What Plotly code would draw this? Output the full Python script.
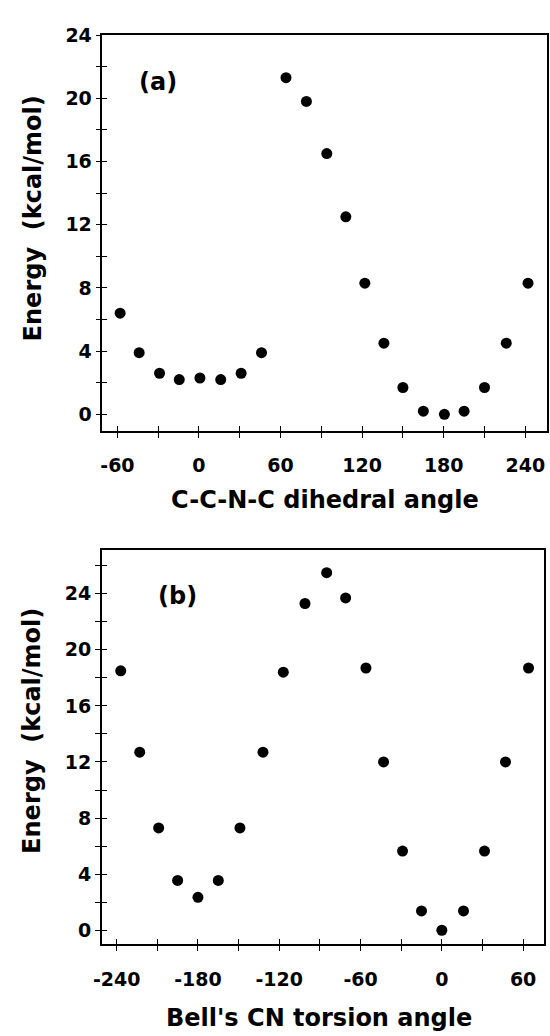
import plotly.graph_objects as go

# ---- data ----
angle_a = [-58, -44, -29, -14.5, 0.7, 16, 31, 46, 64, 79, 94, 108, 122, 136, 150, 165, 180.5, 195, 210, 226, 242]
energy_a = [6.4, 3.9, 2.6, 2.2, 2.3, 2.2, 2.6, 3.9, 21.3, 19.8, 16.5, 12.5, 8.3, 4.5, 1.7, 0.2, 0.0, 0.2, 1.7, 4.5, 8.3]

angle_b = [-237, -223, -209, -195, -180, -165, -149, -132, -117, -101, -85, -71, -56, -43, -29, -15, 0, 16, 31.5, 47, 64]
energy_b = [18.5, 12.7, 7.3, 3.55, 2.35, 3.55, 7.3, 12.7, 18.4, 23.3, 25.5, 23.7, 18.7, 12.0, 5.65, 1.38, 0.0, 1.38, 5.65, 12.0, 18.7]

xticks_a = [-60, 0, 60, 120, 180, 240]
xticklabels_a = ["-60", "0", "60", "120", "180", "240"]
xminor_a = [-30, 30, 90, 150, 210]
xticks_b = [-240, -180, -120, -60, 0, 60]
xticklabels_b = ["-240", "-180", "-120", "-60", "0", "60"]
xminor_b = [-210, -150, -90, -30, 30]
yticks_a = [0, 4, 8, 12, 16, 20, 24]
yminor_a = [2, 6, 10, 14, 18, 22]
yticks_b = [0, 4, 8, 12, 16, 20, 24]
yminor_b = [2, 6, 10, 14, 18, 22, 26]

xtitle_a = "C-C-N-C dihedral angle"
xtitle_b = "Bell's CN torsion angle"
ytitle = "Energy\u00a0\u00a0(kcal/mol)"

W, H = 550, 1036
FONT = "DejaVu Sans"
tickfont = dict(family=FONT, size=19, color="black", weight="bold")
labfont = dict(family=FONT, size=24, color="black", weight="bold")

dom_xa = [95 / W, 547 / W]
dom_ya = [1 - 424.3 / H, 1 - 24.3 / H]
dom_xb = [94.3 / W, 544.3 / W]
dom_yb = [1 - 943.3 / H, 1 - 545 / H]
range_xa = [-71, 256]
range_ya = [-1.04, 24]
range_xb = [-251, 75.7]
range_yb = [-1.0, 27.1]

fig = go.Figure()
mk = dict(color="black", size=11)
fig.add_trace(go.Scatter(x=angle_a, y=energy_a, mode="markers", marker=mk, xaxis="x", yaxis="y", showlegend=False))
fig.add_trace(go.Scatter(x=angle_b, y=energy_b, mode="markers", marker=mk, xaxis="x2", yaxis="y2", showlegend=False))
# transparent copies on the overlay axes so that the inside-tick axes get drawn
fig.add_trace(go.Scatter(x=angle_a, y=energy_a, mode="markers", marker=dict(opacity=0), hoverinfo="skip",
                         xaxis="x3", yaxis="y3", showlegend=False))
fig.add_trace(go.Scatter(x=angle_b, y=energy_b, mode="markers", marker=dict(opacity=0), hoverinfo="skip",
                         xaxis="x4", yaxis="y4", showlegend=False))

line = dict(showline=True, linecolor="black", linewidth=1.6, showgrid=False, zeroline=False)
TL = 5
TW = 1.3

def xmain(dom, rng, tv, tt, mv, anchor):
    return dict(domain=dom, range=rng, anchor=anchor, mirror=True, ticks="outside", ticklen=TL,
                tickwidth=TW, tickcolor="black", tickmode="array", tickvals=tv, ticktext=tt,
                tickfont=tickfont, ticklabelstandoff=12,
                minor=dict(tickmode="array", tickvals=mv, ticks="outside", ticklen=TL, tickwidth=TW, tickcolor="black"),
                **line)

def ymain(dom, rng, tv, mv, anchor):
    return dict(domain=dom, range=rng, anchor=anchor, mirror=True, ticks="outside", ticklen=TL,
                tickwidth=TW, tickcolor="black", tickmode="array", tickvals=tv,
                ticktext=[str(v) for v in tv], tickfont=tickfont, ticklabelstandoff=0,
                minor=dict(tickmode="array", tickvals=mv, ticks="outside", ticklen=TL, tickwidth=TW, tickcolor="black"),
                **line)

def over(ov, dom, rng, tv, mv, anchor):
    return dict(overlaying=ov, domain=dom, range=rng, anchor=anchor, ticks="inside", ticklen=TL, tickwidth=TW,
                tickcolor="black", tickmode="array", tickvals=tv, showticklabels=False,
                showline=False, showgrid=False, zeroline=False,
                minor=dict(tickmode="array", tickvals=mv, ticks="inside", ticklen=TL, tickwidth=TW, tickcolor="black"))

fig.update_layout(
    width=W, height=H, margin=dict(l=0, r=0, t=0, b=0),
    paper_bgcolor="white", plot_bgcolor="white",
    xaxis=xmain(dom_xa, range_xa, xticks_a, xticklabels_a, xminor_a, "y"),
    yaxis=ymain(dom_ya, range_ya, yticks_a, yminor_a, "x"),
    xaxis2=xmain(dom_xb, range_xb, xticks_b, xticklabels_b, xminor_b, "y2"),
    yaxis2=ymain(dom_yb, range_yb, yticks_b, yminor_b, "x2"),
    xaxis3=over("x", dom_xa, range_xa, xticks_a, xminor_a, "y"),
    yaxis3=over("y", dom_ya, range_ya, yticks_a, yminor_a, "x"),
    xaxis4=over("x2", dom_xb, range_xb, xticks_b, xminor_b, "y2"),
    yaxis4=over("y2", dom_yb, range_yb, yticks_b, yminor_b, "x2"),
)

def ann(text, xpx, ypx, angle=0, font=labfont):
    fig.add_annotation(text=text, x=xpx / W, y=1 - ypx / H, xref="paper", yref="paper",
                       showarrow=False, textangle=angle, font=font, xanchor="center", yanchor="middle")

ann(xtitle_a, 321, 494)
ann(xtitle_b, 315, 1018)
ann(ytitle, 24, 210, angle=-90)
ann(ytitle, 24, 728, angle=-90)
ann("(a)", 151, 72)
ann("(b)", 171, 591)

fig.write_html("out.html")
